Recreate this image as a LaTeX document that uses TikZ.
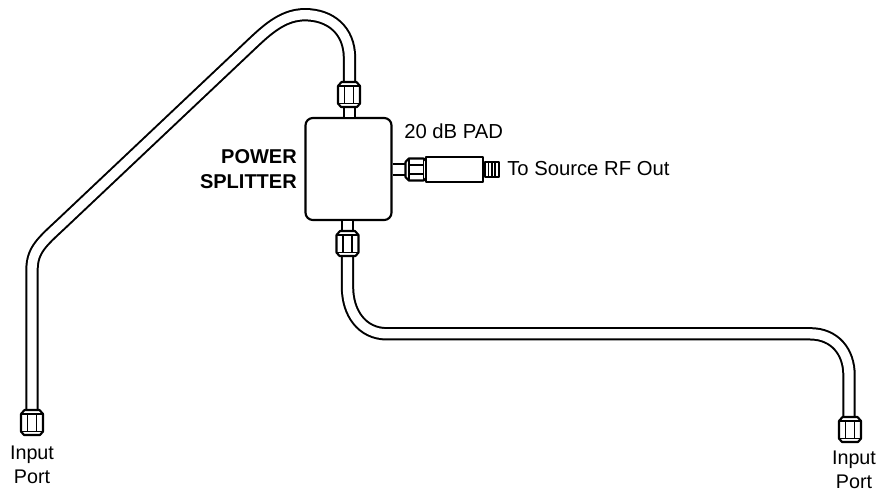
\documentclass[tikz,border=0pt]{standalone}
\usepackage{fontspec}
\setmainfont{Liberation Sans}
\tikzset{
  every picture/.style={x=0.75pt,y=-0.75pt},
  cable/.style={draw=black,line width=1.5pt,double=white,double distance=7pt},
  part/.style={draw=black,line width=1.6pt,fill=white,line join=round},
  thin part/.style={draw=black,line width=1.3pt},
  lbl/.style={font=\fontsize{15.2}{17.6}\selectfont,text=black,inner sep=0pt,align=center},
  conn/.pic={
    \path[part] (-7.5,0) -- (7.5,0) -- (11,4) -- (11,21.5) -- (8,25) -- (-8,25) -- (-11,21.5) -- (-11,4) -- cycle;
    \draw[thin part] (-11,4) -- (11,4) (-11,21.5) -- (11,21.5)
      (-4.5,4) -- (-4.5,21.5) (4.5,4) -- (4.5,21.5);
  }
}
\begin{document}
\begin{tikzpicture}
\useasboundingbox (0,0) rectangle (877,494);
\fill[white] (0,0) rectangle (877,494);
% anchors
\coordinate (topnut) at (349.5,84);
\coordinate (lefttip) at (32,412);
\coordinate (botnut) at (347.5,254);
\coordinate (righttip) at (849,419);
\node[part,rounded corners=5.5pt,minimum width=64.5pt,minimum height=76.5pt,inner sep=0pt] (box) at (348.5,169) {};
% cables
\draw[cable] (topnut) -- (349.5,58) .. controls (349.5,30) and (330,14.7) .. (305,14.7)
  .. controls (285,14.7) and (270,27) .. (255,41) -- (62,223.3)
  .. controls (42,242) and (32,250) .. (32,270) -- (lefttip);
\draw[cable] (botnut) -- (347.5,287) .. controls (347.5,313) and (362,333.8) .. (387,333.8)
  -- (810,333.8) .. controls (835,333.8) and (849,352) .. (849,375) -- (righttip);
% stubs
\draw[cable] (box.north -| topnut) -- ++(0,-16);
\draw[cable] (box.south -| botnut) -- ++(0,12);
\draw[cable] (box.east |- 0,169.5) -- (408,169.5) coordinate (rightnut);
% connectors
\pic at (349,82) {conn};
\pic at (347.5,231) {conn};
\pic[rotate=90,yscale=.84] at (405.5,169.5) {conn};
\pic at (32,410) {conn};
\pic at (850,417) {conn};
% attenuator
\node[part,minimum width=42.75pt,minimum height=18.75pt,inner sep=0pt] (pad) at (454.5,169.5) {};
\node[part,minimum width=10.5pt,minimum height=11.25pt,inner sep=0pt,line width=1.3pt,anchor=west] (tip) at (pad.east) {};
\draw[thin part,line width=1pt] ([xshift=-2.4pt]tip.north) -- ([xshift=-2.4pt]tip.south)
  (tip.north) -- (tip.south) ([xshift=2.4pt]tip.north) -- ([xshift=2.4pt]tip.south);
% labels
\node[lbl,anchor=base west] (padlabel) at (404,138) {20 dB PAD};
\node[lbl,anchor=base west] (srclabel) at (507,175.5) {To Source RF Out};
\node[lbl,anchor=base east,font=\fontsize{15}{18}\selectfont\bfseries] (ps1) at (297,163) {POWER};
\node[lbl,anchor=base east,font=\fontsize{15}{18}\selectfont\bfseries] (ps2) at (297,188) {SPLITTER};
\node[lbl,anchor=north,font=\fontsize{14.8}{17.6}\selectfont] (in1) at (32,446) {Input\\Port};
\node[lbl,anchor=north,font=\fontsize{14.8}{17.6}\selectfont] (in2) at (854,451) {Input\\Port};
\end{tikzpicture}
\end{document}
